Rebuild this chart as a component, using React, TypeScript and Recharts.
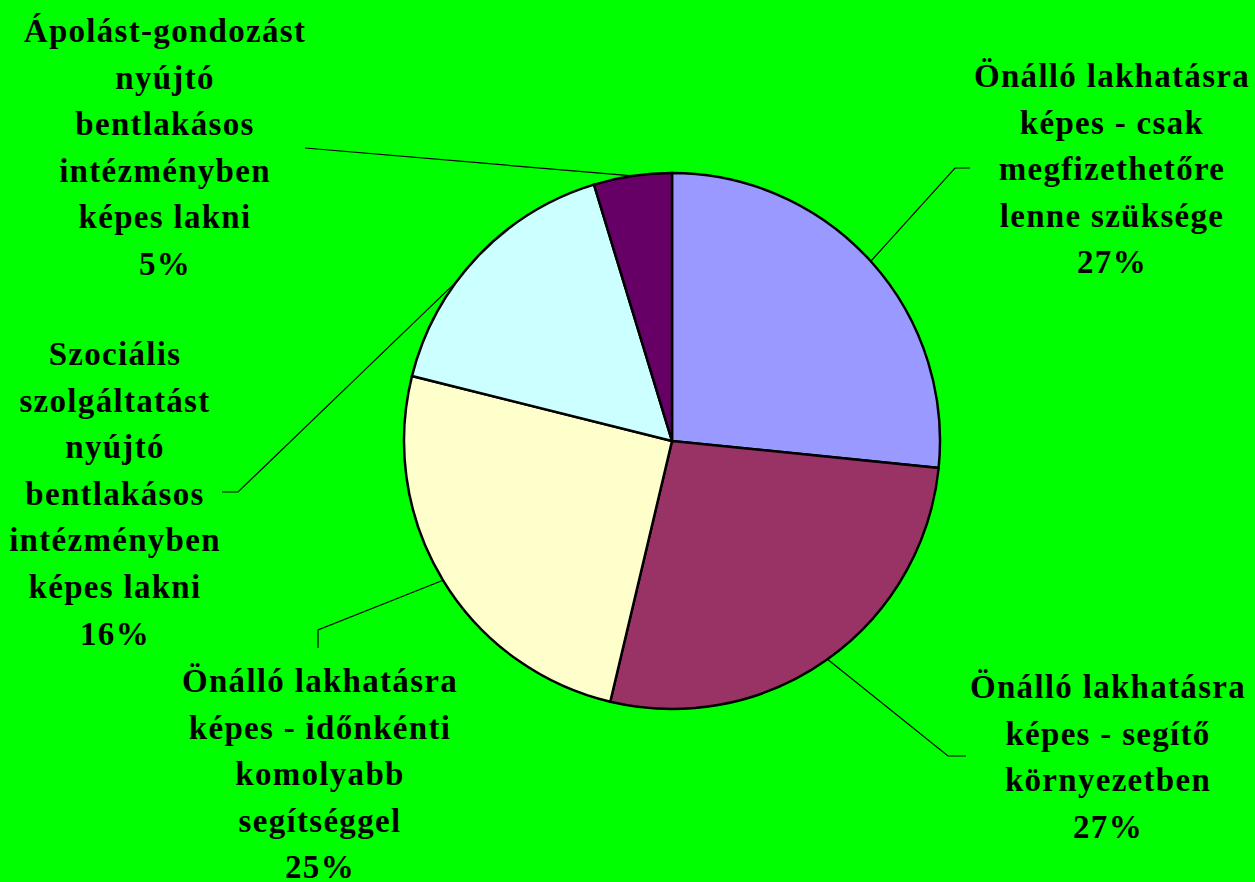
import { Cell, Pie, PieChart } from 'recharts';

const categories = [
  'Önálló lakhatásra\nképes - csak\nmegfizethetőre\nlenne szüksége',
  'Önálló lakhatásra\nképes - segítő\nkörnyezetben',
  'Önálló lakhatásra\nképes - időnkénti\nkomolyabb\nsegítséggel',
  'Szociális\nszolgáltatást\nnyújtó\nbentlakásos\nintézményben\nképes lakni',
  'Ápolást-gondozást\nnyújtó\nbentlakásos\nintézményben\nképes lakni',
];
const shares = [26.6, 27.1, 25.2, 16.4, 4.7];
const colors = ['#9999FF', '#993366', '#FFFFCC', '#CCFFFF', '#660066'];

const data = categories.map((name, i) => ({ name, value: shares[i] }));

// label placement: first baseline, leader elbow and tail end, anchor angle nudge
const labelLayout = [
  { x: 1112, y: 87, elbow: [955, 168], end: [970, 168], shift: 0 },
  { x: 1108, y: 698, elbow: [948, 756], end: [966, 756], shift: 0 },
  { x: 320, y: 692, elbow: [318, 630], end: [318, 648], shift: 0 },
  { x: 115, y: 365, elbow: [238, 492], end: [222, 492], shift: 7 },
  { x: 165, y: 42, elbow: [305, 148], end: [305, 148], shift: 0 },
];

const FONT = "'Liberation Serif', 'Times New Roman', serif";
const LINE_H = 46.6;
const RAD = Math.PI / 180;

function renderLabel(props: any) {
  const { cx, cy, outerRadius, midAngle, percent, index } = props;
  const lay = labelLayout[index];
  const a = (midAngle + lay.shift) * RAD;
  const sx = cx + outerRadius * Math.cos(a);
  const sy = cy - outerRadius * Math.sin(a);
  const lines = [...categories[index].split('\n'), `${Math.round(percent * 100)}%`];
  return (
    <g key={`lbl-${index}`}>
      <polyline
        points={`${sx},${sy} ${lay.elbow[0]},${lay.elbow[1]} ${lay.end[0]},${lay.end[1]}`}
        fill="none"
        stroke="#000"
        strokeWidth={1.2}
      />
      <text
        x={lay.x}
        y={lay.y}
        textAnchor="middle"
        fontFamily={FONT}
        fontWeight="bold"
        fontSize={33}
        letterSpacing={1.3}
        fill="#000"
      >
        {lines.map((t, i) => (
          <tspan key={i} x={lay.x} dy={i === 0 ? 0 : LINE_H}>
            {t}
          </tspan>
        ))}
      </text>
    </g>
  );
}

export default function App() {
  return (
    <div
      style={{
        position: 'absolute',
        left: 0,
        top: 0,
        width: 1255,
        height: 882,
        background: '#00FF00',
      }}
    >
      <PieChart width={1255} height={882} margin={{ top: 0, right: 0, bottom: 0, left: 0 }}>
        <Pie
          data={data}
          dataKey="value"
          nameKey="name"
          cx={672}
          cy={441}
          outerRadius={268}
          startAngle={90}
          endAngle={-270}
          stroke="#000"
          strokeWidth={2.5}
          label={renderLabel}
          labelLine={false}
          isAnimationActive={false}
        >
          {data.map((d, i) => (
            <Cell key={d.name} fill={colors[i]} />
          ))}
        </Pie>
      </PieChart>
    </div>
  );
}
